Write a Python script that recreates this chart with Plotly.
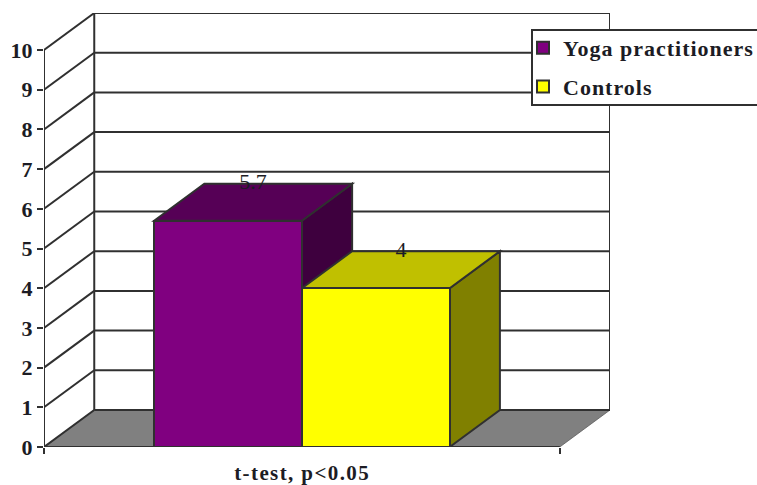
import plotly.graph_objects as go

# Chart content
series_names = ["Yoga practitioners", "Controls"]
bar_values = [5.7, 4]
value_labels = ["5.7", "4"]
y_ticks = [0, 1, 2, 3, 4, 5, 6, 7, 8, 9, 10]
x_title = "t-test, p<0.05"

# Colours per series: front, top, side
front_colors = ["#800080", "#FFFF00"]
top_colors = ["#560056", "#C0C000"]
side_colors = ["#3E003E", "#808000"]
floor_color = "#808080"
line_color = "#303030"
text_color = "#1C1C24"
font_family = "Liberation Serif"

# Pseudo-3D layout, in axis units
bar_centers = [-0.5, 0.5]
bar_width = 1.0
floor_half = 1.745
depth_x = 0.34
depth_y = 0.932
x_max = floor_half + depth_x
y_max = y_ticks[-1] + depth_y

W, H = 757, 485
M_LEFT, M_RIGHT, M_TOP, M_BOTTOM = 44, 147, 13, 38
plot_w = W - M_LEFT - M_RIGHT
plot_h = H - M_TOP - M_BOTTOM
LINE_W = 2


def poly(points, fill, width=LINE_W):
    path = "M" + "L".join(f"{x},{y}" for x, y in points) + "Z"
    return dict(type="path", path=path, fillcolor=fill, layer="below",
                line=dict(color=line_color, width=width), xref="x", yref="y")


def segment(x0, y0, x1, y1):
    return dict(type="line", x0=x0, y0=y0, x1=x1, y1=y1, layer="below",
                line=dict(color=line_color, width=LINE_W), xref="x", yref="y")


shapes = []
# Floor
shapes.append(dict(
    type="path",
    path=(f"M{-floor_half},0L{-floor_half + depth_x},{depth_y}"
          f"L{floor_half + depth_x},{depth_y}L{floor_half},0Z"),
    fillcolor=floor_color, layer="below",
    line=dict(color="#555555", width=0.75), xref="x", yref="y"))
# Back wall and left wall gridlines
for v in y_ticks:
    shapes.append(segment(-floor_half + depth_x, v + depth_y, x_max, v + depth_y))
    shapes.append(segment(-floor_half, v, -floor_half + depth_x, v + depth_y))
shapes.append(segment(-floor_half + depth_x, depth_y, -floor_half + depth_x, y_max))
shapes.append(segment(x_max, depth_y, x_max, y_max))
# Front axis lines
shapes.append(segment(-floor_half, 0, -floor_half, y_ticks[-1]))
shapes.append(segment(-floor_half, 0, floor_half, 0))

# Side and top faces of each bar, sitting under the front faces
for c, v, top, side in zip(bar_centers, bar_values, top_colors, side_colors):
    left, right = c - bar_width / 2, c + bar_width / 2
    shapes.append(poly([(right, 0), (right + depth_x, depth_y),
                        (right + depth_x, v + depth_y), (right, v)], side))
    shapes.append(poly([(left, v), (left + depth_x, v + depth_y),
                        (right + depth_x, v + depth_y), (right, v)], top))

# Legend box, running off the right edge of the page
legend_left, legend_right, legend_top, legend_bottom = 532, 765, 30, 105
shapes.append(dict(
    type="rect", xref="paper", yref="paper", layer="above",
    x0=(legend_left - M_LEFT) / plot_w, x1=(legend_right - M_LEFT) / plot_w,
    y0=(H - M_BOTTOM - legend_bottom) / plot_h,
    y1=(H - M_BOTTOM - legend_top) / plot_h,
    fillcolor="white", line=dict(color=line_color, width=LINE_W)))

fig = go.Figure()
for i, name in enumerate(series_names):
    fig.add_trace(go.Bar(
        x=[bar_centers[i]], y=[bar_values[i]], width=bar_width, name=name,
        legendgroup=name,
        marker=dict(color=front_colors[i], line=dict(color=line_color, width=LINE_W)),
        hoverinfo="skip"))

# Value labels float above the back edge of each bar's top face
fig.add_trace(go.Scatter(
    x=[c + depth_x / 2 for c in bar_centers],
    y=[v + depth_y for v in bar_values],
    text=value_labels, mode="text", textposition="middle center",
    textfont=dict(family=font_family, size=22, color=text_color),
    showlegend=False, hoverinfo="skip", cliponaxis=False))

fig.add_annotation(
    x=0, xref="x", y=0, yref="paper", yshift=-26, yanchor="middle", showarrow=False,
    text=x_title,
    font=dict(family=font_family, size=21, color=text_color, weight="bold"))

fig.update_layout(
    width=W, height=H,
    margin=dict(l=M_LEFT, r=M_RIGHT, t=M_TOP, b=M_BOTTOM, pad=0, autoexpand=False),
    paper_bgcolor="white", plot_bgcolor="white",
    barmode="overlay", bargap=0,
    shapes=shapes,
    font=dict(family=font_family, color=text_color),
    legend=dict(
        x=(523 - M_LEFT) / plot_w, xanchor="left",
        y=(H - M_BOTTOM - 27) / plot_h, yanchor="top",
        bgcolor="rgba(0,0,0,0)", borderwidth=0, tracegroupgap=7,
        traceorder="grouped",
        font=dict(family=font_family, size=22, color=text_color, weight="bold")),
    xaxis=dict(
        range=[-floor_half, x_max], showgrid=False, zeroline=False, showline=False,
        tickmode="array", tickvals=[-floor_half, floor_half], ticktext=["", ""],
        ticks="outside", ticklen=6, tickwidth=LINE_W, tickcolor=line_color),
    yaxis=dict(
        range=[0, y_max], showgrid=False, zeroline=False, showline=False,
        tickmode="array", tickvals=y_ticks, ticktext=[str(t) for t in y_ticks],
        ticks="outside", ticklen=6, tickwidth=LINE_W, tickcolor=line_color,
        tickfont=dict(family=font_family, size=22, color=text_color, weight="bold")),
)

# The legend and axis caption are set with wide tracking, so the legend
# must not clip to the width measured before the tracking applies
tracking = """
document.querySelectorAll('.legendtext').forEach(t => t.style.letterSpacing = '1px');
document.querySelectorAll('.annotation-text').forEach(t => t.style.letterSpacing = '1.4px');
document.querySelectorAll('.legend, .legend .scrollbox').forEach(g => {
  g.removeAttribute('clip-path');
  g.style.clipPath = 'none';
});
"""

fig.write_html("out.html", config=dict(displayModeBar=False), post_script=tracking)
